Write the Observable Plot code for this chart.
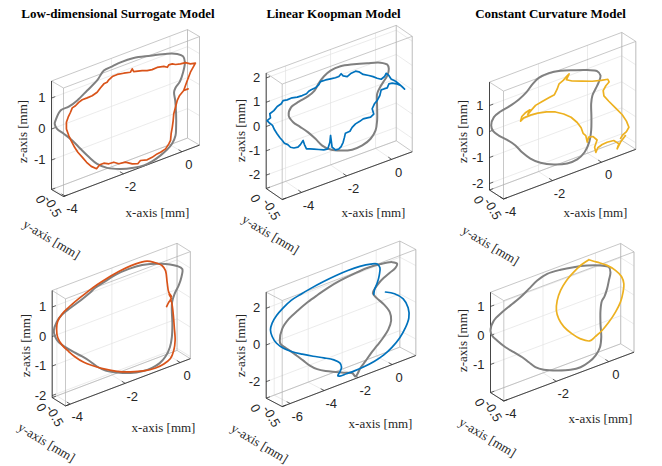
<!DOCTYPE html>
<html><head><meta charset="utf-8">
<script src="https://cdn.jsdelivr.net/npm/d3@7"></script>
<script src="https://cdn.jsdelivr.net/npm/@observablehq/plot@0.6"></script>
<style>
body{margin:0;background:#fff;}
#chart{width:662px;height:466px;}
</style></head><body><div id="chart"></div>
<script>
// ---------- text ----------
const titles = ["Low-dimensional Surrogate Model", "Linear Koopman Model", "Constant Curvature Model"];
const xLabelText = "x-axis [mm]", yLabelText = "y-axis [mm]", zLabelText = "z-axis [mm]";

// ---------- axis limits & ticks (data units) ----------
const xLims = [[-4.05, 0.6], [-4.86, 0.92], [-4, 1.4], [-4.17, 0.37], [-6.47, 1.39], [-4, 0.96]];
const yLims = [[-0.5, 0], [-0.5, 0], [-0.5, 0], [-0.5, 0], [-0.5, 0], [-0.5, 0]];
const zLims = [[-1.95, 1.55], [-2.55, 2.2], [-2.25, 1.9], [-2.07, 1.56], [-2.9, 2.88], [-1.97, 1.49]];
const xTicks = [[-4, -2, 0], [-4, -2, 0], [-4, -2, 0], [-4, -2, 0], [-6, -4, -2, 0], [-4, -2, 0]];
const yTicks = [[-0.5, 0], [-0.5, 0], [-0.5, 0], [-0.5, 0], [-0.5, 0], [-0.5, 0]];
const zTicks = [[-1, 0, 1], [-2, -1, 0, 1, 2], [-2, -1, 0, 1], [-2, -1, 0, 1], [-2, 0, 2], [-1, 0, 1]];

// ---------- trajectories [x, z] (mm) ----------
const p1Ref = [[-3.91,0.23],[-3.74,0.49],[-3.46,0.51],[-3.17,0.61],[-2.83,0.81],[-2.49,1.01],[-2.26,1.25],[-1.97,1.28],[-1.69,1.31],[-1.24,1.29],[-0.67,1.16],[-0.09,1.02],[0.25,0.89],[0.45,0.74],[0.51,0.53],[0.45,0.23],[0.34,-0.03],[0.19,-0.18],[0.14,-0.31],[0.18,-0.59],[0.21,-1.03],[0.21,-1.46],[0.19,-1.72],[0.08,-1.93],[-0.09,-2.07],[-0.32,-2.18],[-0.61,-2.27],[-0.89,-2.30],[-1.24,-2.25],[-1.69,-2.13],[-2.15,-1.93],[-2.49,-1.68],[-2.77,-1.36],[-3.06,-0.99],[-3.34,-0.62],[-3.63,-0.30],[-3.86,-0.06],[-3.94,0.13]];
const p1Model = [[0.87,0.37],[0.70,0.14],[0.57,-0.14],[0.47,-0.37],[0.62,-0.37],[0.47,-0.37],[0.33,-0.48],[0.25,-0.61],[0.19,-0.81],[0.13,-1.00],[0.11,-1.21],[0.08,-1.41],[0.04,-1.61],[0.02,-1.82],[-0.04,-1.91],[-0.15,-2.03],[-0.32,-2.08],[-0.44,-2.09],[-0.61,-2.14],[-0.78,-2.16],[-1.01,-2.10],[-1.10,-2.17],[-1.29,-2.11],[-1.52,-1.97],[-1.75,-1.94],[-1.92,-1.83],[-2.09,-1.82],[-2.26,-1.74],[-2.40,-1.74],[-2.51,-1.83],[-2.69,-1.69],[-2.85,-1.50],[-3.00,-1.28],[-3.15,-1.07],[-3.26,-0.87],[-3.38,-0.61],[-3.46,-0.42],[-3.54,-0.18],[-3.54,0.04],[-3.48,0.18],[-3.40,0.31],[-3.34,0.43],[-3.23,0.46],[-3.12,0.53],[-3.00,0.57],[-2.83,0.57],[-2.66,0.58],[-2.49,0.63],[-2.38,0.73],[-2.26,0.82],[-2.15,0.83],[-2.09,0.89],[-1.97,0.95],[-1.80,0.96],[-1.58,0.92],[-1.35,0.87],[-1.29,0.96],[-1.24,0.85],[-0.95,0.78],[-0.78,0.72],[-0.61,0.69],[-0.44,0.70],[-0.21,0.65],[-0.09,0.58],[-0.04,0.64],[0.08,0.63],[0.19,0.57],[0.36,0.53],[0.53,0.51],[0.70,0.41],[0.87,0.37]];

const p2Ref = [[-3.86,0.11],[-3.75,0.42],[-3.41,0.53],[-3.01,0.61],[-2.71,0.75],[-2.52,0.99],[-2.30,1.19],[-2.00,1.33],[-1.56,1.36],[-0.97,1.24],[-0.37,1.08],[0.22,0.90],[0.52,0.72],[0.59,0.52],[0.52,0.27],[0.34,0.06],[0.19,-0.12],[0.07,-0.33],[0.07,-0.88],[0.07,-1.43],[0.00,-1.81],[-0.22,-2.08],[-0.59,-2.23],[-1.04,-2.25],[-1.56,-2.11],[-2.00,-1.92],[-2.37,-1.63],[-2.67,-1.25],[-3.01,-0.86],[-3.37,-0.51],[-3.66,-0.23]];
const p2Model = [[-4.82,0.23],[-4.67,0.29],[-4.70,0.47],[-4.52,0.54],[-4.37,0.66],[-4.19,0.71],[-4.11,0.81],[-3.93,0.78],[-3.71,0.79],[-3.48,0.74],[-3.26,0.73],[-3.07,0.74],[-2.97,0.81],[-2.86,0.83],[-2.67,0.85],[-2.52,0.93],[-2.45,1.03],[-2.22,1.02],[-2.00,0.99],[-1.78,0.96],[-1.63,0.96],[-1.53,1.04],[-1.44,0.92],[-1.26,0.83],[-1.08,0.91],[-0.89,0.93],[-0.74,0.85],[-0.55,0.68],[-0.30,0.55],[-0.11,0.44],[0.07,0.31],[0.25,0.21],[0.40,0.27],[0.47,0.38],[0.59,0.25],[0.69,0.07],[0.89,-0.09],[1.04,-0.25],[1.18,-0.41],[1.29,-0.55],[1.11,-0.34],[0.93,-0.21],[0.74,-0.12],[0.59,-0.10],[0.52,-0.24],[0.37,-0.23],[0.25,-0.23],[0.19,-0.44],[0.07,-0.61],[-0.05,-0.70],[-0.15,-0.87],[-0.08,-1.11],[-0.22,-1.19],[-0.37,-1.17],[-0.55,-1.15],[-0.70,-1.20],[-0.89,-1.24],[-1.04,-1.33],[-1.14,-1.46],[-1.34,-1.47],[-1.38,-1.62],[-1.44,-1.81],[-1.53,-1.96],[-1.63,-2.02],[-1.78,-2.01],[-1.93,-1.85],[-2.00,-1.34],[-2.03,-1.61],[-2.12,-1.85],[-2.30,-1.83],[-2.52,-1.74],[-2.74,-1.65],[-2.92,-1.58],[-3.07,-1.53],[-3.16,-1.32],[-3.22,-1.13],[-3.34,-1.26],[-3.45,-1.33],[-3.63,-1.30],[-3.78,-1.22],[-3.90,-1.07],[-4.05,-0.96],[-4.14,-0.82],[-4.25,-0.67],[-4.37,-0.47],[-4.49,-0.26],[-4.58,-0.05],[-4.70,0.08],[-4.82,0.23]];

const p3Ref = [[-3.93,0.21],[-3.82,0.49],[-3.55,0.61],[-3.21,0.68],[-2.80,0.81],[-2.49,0.98],[-2.26,1.19],[-1.99,1.35],[-1.58,1.39],[-1.10,1.31],[-0.56,1.14],[-0.01,0.95],[0.39,0.77],[0.53,0.55],[0.46,0.32],[0.33,0.11],[0.20,-0.10],[0.15,-0.40],[0.16,-0.92],[0.15,-1.43],[0.07,-1.85],[-0.12,-2.17],[-0.42,-2.34],[-0.83,-2.35],[-1.37,-2.20],[-1.92,-1.94],[-2.33,-1.63],[-2.67,-1.27],[-2.94,-0.91],[-3.28,-0.58],[-3.62,-0.29],[-3.85,-0.04]];
const p3Model = [[1.55,-2.12],[1.35,-2.30],[1.21,-2.51],[1.28,-2.34],[1.07,-2.14],[0.80,-2.11],[0.60,-2.13],[0.42,-2.19],[0.34,-2.34],[0.29,-2.12],[0.39,-1.88],[0.23,-1.69],[0.05,-1.65],[-0.01,-1.82],[-0.07,-1.55],[-0.18,-1.42],[-0.26,-1.18],[-0.42,-0.92],[-0.67,-0.63],[-0.97,-0.40],[-1.31,-0.20],[-1.67,-0.07],[-2.03,0.01],[-2.33,0.04],[-2.60,0.03],[-2.73,-0.05],[-2.68,0.11],[-2.52,0.21],[-2.35,0.25],[-2.44,0.10],[-2.30,0.21],[-2.12,0.34],[-1.85,0.39],[-1.58,0.44],[-1.35,0.48],[-1.24,0.65],[-1.16,0.83],[-0.99,0.90],[-0.83,1.02],[-0.75,1.07],[-0.86,0.88],[-0.63,0.75],[-0.22,0.60],[0.19,0.45],[0.56,0.35],[0.83,0.30],[0.88,0.18],[0.75,0.08],[0.64,-0.07],[0.67,-0.28],[0.87,-0.56],[1.14,-0.91],[1.41,-1.26],[1.59,-1.58],[1.69,-1.85],[1.59,-1.98],[1.43,-2.06],[1.35,-2.16]];

const p4Ref = [[-4.11,0.18],[-4.01,0.43],[-3.81,0.62],[-3.50,0.74],[-3.14,0.86],[-2.84,0.98],[-2.60,1.10],[-2.29,1.18],[-1.87,1.28],[-1.38,1.31],[-0.90,1.27],[-0.23,1.08],[0.37,0.79],[0.56,0.62],[0.53,0.36],[0.43,0.11],[0.28,-0.12],[0.19,-0.37],[0.18,-0.65],[0.20,-1.11],[0.18,-1.56],[0.11,-1.87],[-0.05,-2.13],[-0.26,-2.28],[-0.54,-2.34],[-0.90,-2.33],[-1.32,-2.24],[-1.81,-2.05],[-2.23,-1.84],[-2.54,-1.59],[-2.80,-1.32],[-3.08,-1.06],[-3.38,-0.81],[-3.69,-0.53],[-3.93,-0.28],[-4.07,-0.03]];
const p4Model = [[-0.01,-0.45],[0.08,-0.32],[0.16,-0.24],[0.08,-0.07],[0.17,-0.17],[0.07,0.00],[0.01,0.36],[-0.05,0.78],[-0.17,0.99],[-0.47,1.21],[-0.72,1.34],[-0.96,1.38],[-1.32,1.39],[-1.75,1.35],[-2.17,1.27],[-2.54,1.18],[-2.90,1.06],[-3.26,0.92],[-3.57,0.78],[-3.81,0.64],[-3.97,0.45],[-4.01,0.19],[-3.97,-0.10],[-3.80,-0.43],[-3.57,-0.72],[-3.32,-1.00],[-3.02,-1.28],[-2.66,-1.53],[-2.29,-1.76],[-1.81,-2.01],[-1.32,-2.20],[-0.84,-2.34],[-0.41,-2.39],[-0.11,-2.36],[0.13,-2.26],[0.25,-2.03],[0.30,-1.71],[0.27,-1.25],[0.23,-0.78],[0.18,-0.40],[0.13,-0.25]];

const p5Ref = [[-5.67,-0.04],[-5.53,0.55],[-5.14,0.95],[-4.61,1.22],[-4.02,1.47],[-3.43,1.66],[-2.84,1.83],[-2.10,1.97],[-1.32,2.05],[-0.53,2.09],[0.25,2.03],[0.94,1.89],[1.23,1.70],[1.12,1.50],[0.80,1.36],[0.45,1.21],[0.16,1.03],[-0.06,0.83],[-0.20,0.61],[0.02,0.27],[0.45,-0.24],[0.80,-0.79],[0.88,-1.27],[0.71,-1.71],[0.41,-2.04],[0.06,-2.34],[-0.30,-2.63],[-0.63,-2.95],[-0.92,-3.21],[-1.12,-3.50],[-1.22,-3.58],[-1.41,-3.32],[-1.80,-3.17],[-2.39,-2.92],[-2.98,-2.66],[-3.47,-2.38],[-3.90,-2.03],[-4.30,-1.61],[-4.69,-1.20],[-5.04,-0.84],[-5.39,-0.50],[-5.63,-0.23]];
const p5Model = [[0.55,0.40],[1.08,0.12],[1.59,-0.34],[1.88,-0.93],[1.92,-1.49],[1.72,-1.96],[1.39,-2.39],[0.94,-2.74],[0.45,-2.99],[-0.10,-3.14],[-0.69,-3.22],[-1.28,-3.25],[-1.75,-3.24],[-2.14,-3.23],[-2.26,-3.17],[-2.14,-3.01],[-2.04,-2.78],[-2.14,-2.51],[-2.49,-2.22],[-3.08,-1.90],[-3.71,-1.59],[-4.35,-1.25],[-4.94,-0.91],[-5.43,-0.56],[-5.86,-0.12],[-6.12,0.34],[-6.22,0.74],[-6.12,1.07],[-5.86,1.39],[-5.47,1.67],[-5.00,1.91],[-4.45,2.04],[-3.82,2.16],[-3.12,2.26],[-2.39,2.33],[-1.67,2.36],[-0.96,2.33],[-0.33,2.23],[0.06,2.10],[0.22,1.84],[0.18,1.44],[0.06,1.06],[-0.10,0.75],[-0.14,0.51]];

const p6Ref = [[-4.00,0.17],[-3.87,0.47],[-3.56,0.65],[-3.24,0.78],[-2.86,0.93],[-2.54,1.11],[-2.22,1.29],[-1.84,1.39],[-1.33,1.36],[-0.83,1.28],[-0.32,1.16],[0.19,0.99],[0.51,0.83],[0.57,0.63],[0.51,0.37],[0.44,0.10],[0.34,-0.13],[0.24,-0.26],[0.19,-0.56],[0.19,-1.02],[0.22,-1.49],[0.17,-1.82],[0.00,-2.05],[-0.25,-2.19],[-0.57,-2.26],[-0.95,-2.22],[-1.46,-2.07],[-1.97,-1.87],[-2.29,-1.67],[-2.54,-1.42],[-2.79,-1.16],[-3.11,-0.88],[-3.43,-0.60],[-3.75,-0.26],[-3.94,-0.02]];
const p6Model = [[-0.25,1.34],[0.06,1.15],[0.44,0.91],[0.76,0.63],[0.99,0.34],[1.08,0.06],[1.05,-0.22],[0.95,-0.53],[0.76,-0.81],[0.51,-1.07],[0.25,-1.27],[0.00,-1.39],[-0.22,-1.47],[-0.57,-1.28],[-0.89,-1.00],[-1.21,-0.64],[-1.40,-0.31],[-1.49,0.01],[-1.46,0.34],[-1.33,0.65],[-1.11,0.91],[-0.83,1.11],[-0.55,1.26],[-0.25,1.34]];

const refSeries = [p1Ref, p2Ref, p3Ref, p4Ref, p5Ref, p6Ref];
const modelSeries = [p1Model, p2Model, p3Model, p4Model, p5Model, p6Model];

// ---------- layout / styling (view geometry of each 3-D axes) ----------
const modelColors = ["#D95319", "#0072BD", "#EDB120", "#D95319", "#0072BD", "#EDB120"];
const modelCurves = ["linear", "linear", "linear", "catmull-rom", "catmull-rom", "catmull-rom"];
const views = [
  {origin:[51,189],    ex:[29.25,-11.06], ey:[-24,-14],     ez:31,    title:[117.5,13], zLab:[22,131],  xLab:[157,212], yLab:[51,239]},
  {origin:[265.7,188], ex:[22.5,-8.26],   ey:[-32,-22],     ez:24.3,  title:[333,13],   zLab:[240,130], xLab:[373,212], yLab:[270,234]},
  {origin:[489,189.5], ex:[24.5,-9.2],    ey:[-28,-18],     ez:26,    title:[550,13],   zLab:[462,131], xLab:[595,212], yLab:[490,245]},
  {origin:[51.7,397.1],ex:[27.5,-10.4],   ey:[-26.6,-16.6], ez:29.5,  title:null,       zLab:[25,345],  xLab:[163,427], yLab:[46,442]},
  {origin:[265.7,397.7],ex:[17,-6.5],     ey:[-32,-16.8],   ez:18.35, title:null,       zLab:[240,345], xLab:[380,423], yLab:[259,443]},
  {origin:[490,392.1], ex:[26.25,-9.84],  ey:[-26.6,-16.8], ez:29,    title:null,       zLab:[462,340], xLab:[600,418], yLab:[487,437]}
];

// ---------- projection ----------
function proj(i, x, y, z) {
  const v = views[i];
  const dx = x - xLims[i][0], dy = y - yLims[i][1], dz = z - zLims[i][0];
  return [v.origin[0] + dx*v.ex[0] + dy*v.ey[0], v.origin[1] + dx*v.ex[1] + dy*v.ey[1] - dz*v.ez];
}

const grid = [], box = [], axisLines = [], tickMarks = [];
const zTickLab = [], xTickLab = [], yTickLab = [], zAxisLab = [], xAxisLab = [], yAxisLab = [], titleLab = [];
const refPts = [], modelPts = [];

views.forEach((v, i) => {
  const [x0, x1] = xLims[i], [y0, y1] = yLims[i], [z0, z1] = zLims[i];
  const seg = (arr, a, b) => { const P = proj(i, ...a), Q = proj(i, ...b); arr.push({x1:P[0], y1:P[1], x2:Q[0], y2:Q[1]}); };
  // grid on back wall (y=y1), floor (z=z0), side wall (x=x1)
  xTicks[i].forEach(t => { seg(grid, [t,y1,z0], [t,y1,z1]); seg(grid, [t,y0,z0], [t,y1,z0]); });
  zTicks[i].forEach(t => { seg(grid, [x0,y1,t], [x1,y1,t]); seg(grid, [x1,y0,t], [x1,y1,t]); });
  yTicks[i].forEach(t => { seg(grid, [x0,t,z0], [x1,t,z0]); seg(grid, [x1,t,z0], [x1,t,z1]); });
  // 12 box edges
  const corner = k => [(k&1)?x1:x0, (k&2)?y1:y0, (k&4)?z1:z0];
  for (let k = 0; k < 8; k++) for (const b of [1,2,4]) if (!(k & b)) seg(box, corner(k), corner(k|b));
  // axes
  seg(axisLines, [x0,y1,z0], [x0,y1,z1]);
  seg(axisLines, [x0,y1,z0], [x0,y0,z0]);
  seg(axisLines, [x0,y0,z0], [x1,y0,z0]);
  const exLen = Math.hypot(v.ex[0], v.ex[1]);
  const eyLen = Math.hypot(v.ey[0], v.ey[1]) * (y1 - y0);
  xTicks[i].forEach(t => {
    seg(tickMarks, [t,y0,z0], [t, y0 + (y1-y0)*4/eyLen, z0]);
    const P = proj(i, t, y0, z0); xTickLab.push({x:P[0]+7, y:P[1]+13, t:String(t)});
  });
  zTicks[i].forEach(t => {
    seg(tickMarks, [x0,y1,t], [x0 + 4/exLen, y1, t]);
    const P = proj(i, x0, y1, t); zTickLab.push({x:P[0]-6, y:P[1], t:String(t)});
  });
  yTicks[i].forEach(t => {
    seg(tickMarks, [x0,t,z0], [x0 + 4/exLen, t, z0]);
    const P = proj(i, x0, t, z0); yTickLab.push({x:P[0]-11, y:P[1]+10, t:String(t)});
  });
  zAxisLab.push({x:v.zLab[0], y:v.zLab[1]});
  xAxisLab.push({x:v.xLab[0], y:v.xLab[1]});
  yAxisLab.push({x:v.yLab[0], y:v.yLab[1]});
  if (v.title) titleLab.push({x:v.title[0], y:v.title[1], t:titles[i]});
  refSeries[i].forEach(([x, z]) => { const P = proj(i, x, y1, z); refPts.push({sx:P[0], sy:P[1], k:i}); });
  modelSeries[i].forEach(([x, z]) => { const P = proj(i, x, y1, z); modelPts.push({sx:P[0], sy:P[1], k:i}); });
});

const L = {x1:"x1", y1:"y1", x2:"x2", y2:"y2"};
const marks = [
  Plot.link(grid, {...L, stroke:"#e2e2e2", strokeWidth:0.7}),
  Plot.link(box, {...L, stroke:"#b0b0b0", strokeWidth:0.7}),
  Plot.link(axisLines, {...L, stroke:"#262626", strokeWidth:0.8}),
  Plot.link(tickMarks, {...L, stroke:"#262626", strokeWidth:0.7})
];
views.forEach((v, i) => {
  marks.push(Plot.line(refPts.filter(d => d.k === i), {x:"sx", y:"sy", stroke:"#808080", strokeWidth:2, curve:"catmull-rom-closed", strokeLinejoin:"round"}));
  marks.push(Plot.line(modelPts.filter(d => d.k === i), {x:"sx", y:"sy", stroke:modelColors[i], strokeWidth:1.7, curve:modelCurves[i], strokeLinejoin:"round"}));
});
const sans = "Liberation Sans, Arial, sans-serif", serif = "Liberation Serif, Times New Roman, serif";
marks.push(
  Plot.text(zTickLab, {x:"x", y:"y", text:"t", textAnchor:"end", lineAnchor:"middle", fontSize:13, fontFamily:sans, fill:"#262626"}),
  Plot.text(xTickLab, {x:"x", y:"y", text:"t", textAnchor:"middle", lineAnchor:"middle", fontSize:13, fontFamily:sans, fill:"#262626"}),
  Plot.text(yTickLab, {x:"x", y:"y", text:"t", textAnchor:"middle", lineAnchor:"middle", rotate:60, fontSize:13, fontFamily:sans, fill:"#262626"}),
  Plot.text(zAxisLab, {x:"x", y:"y", text:() => zLabelText, rotate:-90, textAnchor:"middle", lineAnchor:"middle", fontSize:13, fontFamily:serif, fill:"#262626"}),
  Plot.text(xAxisLab, {x:"x", y:"y", text:() => xLabelText, textAnchor:"middle", lineAnchor:"middle", fontSize:13, fontFamily:serif, fill:"#262626"}),
  Plot.text(yAxisLab, {x:"x", y:"y", text:() => yLabelText, rotate:31, textAnchor:"middle", lineAnchor:"middle", fontSize:13, fontFamily:serif, fill:"#262626"}),
  Plot.text(titleLab, {x:"x", y:"y", text:"t", textAnchor:"middle", lineAnchor:"middle", fontSize:13, fontWeight:"bold", fontFamily:serif, fill:"#000"})
);

const chart = Plot.plot({
  width: 662, height: 466, margin: 0,
  x: {domain:[0, 662], range:[0, 662], axis:null},
  y: {domain:[0, 466], range:[0, 466], axis:null},
  style: {background:"#fff", overflow:"visible"},
  marks
});
document.getElementById("chart").appendChild(chart);
</script>
</body></html>
